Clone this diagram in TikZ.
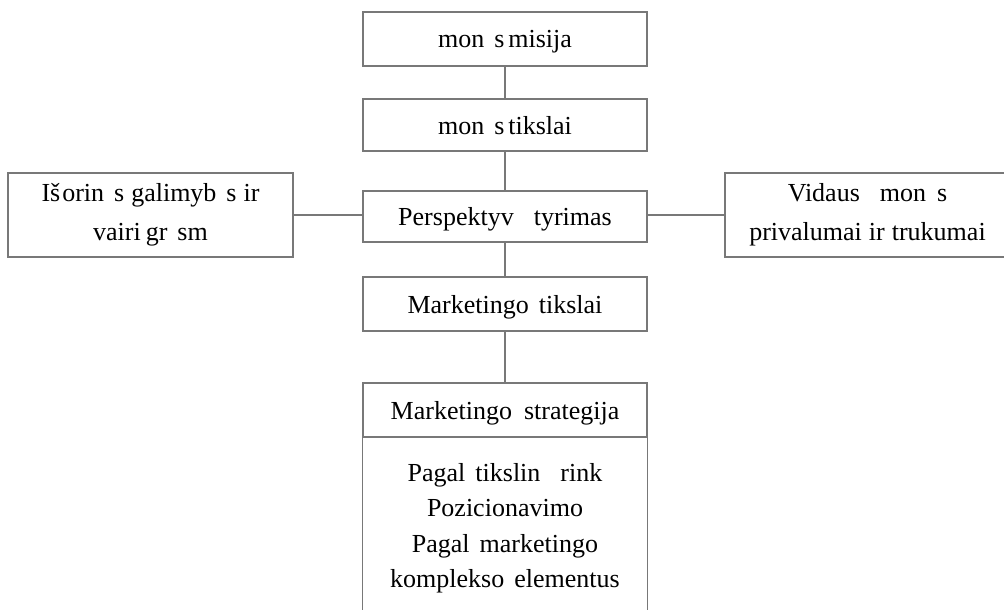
\documentclass[tikz,border=0pt]{standalone}
\usepackage{fontspec}
\setmainfont{Liberation Serif}
\newcommand\wsp[1]{\hspace{#1pt}}
\definecolor{linegray}{RGB}{120,120,120}
\begin{document}
\begin{tikzpicture}[x=1pt,y=-1pt,
  box/.style={draw=linegray, line width=1.1pt, minimum width=284pt, align=center, inner sep=0pt,
    font=\fontsize{26}{39}\selectfont},
  single/.style={box, text depth=0pt},
  conn/.style={draw=linegray, line width=1.1pt}]
\useasboundingbox (0,0) rectangle (1004,610);
\clip (0,0) rectangle (1004,610);
\fill[white] (0,0) rectangle (1004,610);
\node[single, minimum height=54pt] (misija) at (505,39) {mon\wsp{10}s\wsp{4}misija};
\node[single, minimum height=52pt] (tikslai) at (505,125) {mon\wsp{10}s\wsp{4}tikslai};
\node[single, minimum height=51pt] (persp) at (505,216.5) {Perspektyv\wsp{20}tyrimas};
\node[single, minimum height=54pt] (mtiks) at (505,304) {Marketingo\wsp{10}tikslai};
\node[single, minimum height=54pt] (strat) at (505,410) {Marketingo\wsp{12}strategija};
\node[box, minimum width=285pt, minimum height=84pt] (isor) at (150.5,215)
  {Iš\wsp{2}orin\wsp{10}s\wsp{7}galimyb\wsp{10}s\wsp{7}ir\\vairi\wsp{5}gr\wsp{10}sm};
\node[box, minimum width=285pt, minimum height=84pt] (vidaus) at (867.5,215)
  {Vidaus\wsp{20}mon\wsp{11}s\\privalumai\wsp{7}ir\wsp{7}trukumai};
\node[align=center, inner sep=0pt, font=\fontsize{26}{35.5}\selectfont] (body) at (505,528)
  {Pagal\wsp{10}tikslin\wsp{20}rink\\Pozicionavimo\\Pagal\wsp{10}marketingo\\komplekso\wsp{10}elementus};
\coordinate (bl) at (strat.south west |- 0,640);
\coordinate (br) at (strat.south east |- 0,640);
\draw[conn] (strat.south west) -- (bl);
\draw[conn] (strat.south east) -- (br);
\draw[conn] (misija) -- (tikslai);
\draw[conn] (tikslai) -- (persp);
\draw[conn] (persp) -- (mtiks);
\draw[conn] (mtiks) -- (strat);
\draw[conn] (isor.east) -- (isor.east -| persp.west);
\draw[conn] (vidaus.west -| persp.east) -- (vidaus.west);
\end{tikzpicture}
\end{document}
